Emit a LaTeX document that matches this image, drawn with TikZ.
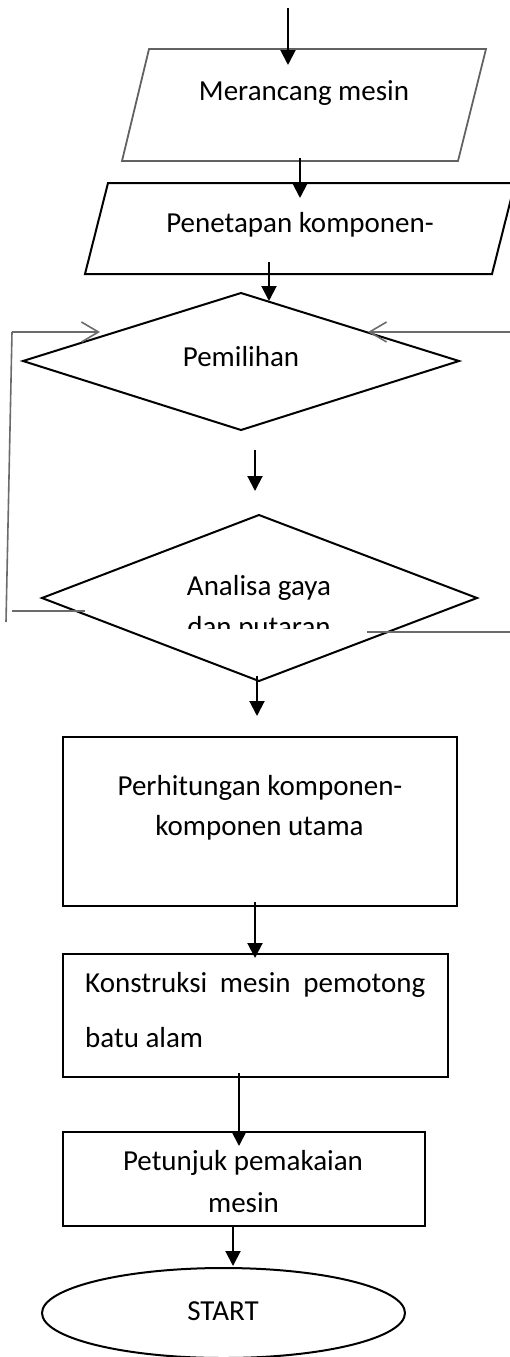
\documentclass[tikz,border=0pt]{standalone}
\usepackage{fontspec}
\setmainfont{Carlito}
\usetikzlibrary{arrows.meta}
\begin{document}
\begin{tikzpicture}[x=1pt,y=-1pt,
  shapeline/.style={draw=black,line width=2pt,line join=miter},
  grayshape/.style={draw=black!62,line width=1.8pt,line join=miter},
  flow/.style={draw=black,line width=2pt,-{Triangle[width=15pt,length=15pt]}},
  loopline/.style={draw=black!58,line width=1.6pt},
  loopin/.style={loopline,-{Straight Barb[length=17pt,width=20pt]}},
  txt/.style={anchor=base,inner sep=0pt,font=\fontsize{29}{39}\selectfont},
]
\useasboundingbox (0,0) rectangle (510,1357);

% shapes
\draw[grayshape] (149,49) -- (486,49) -- (458,161) -- (122,161) -- cycle;
\draw[shapeline] (108,183) -- (515,183) -- (492,274) -- (85,274) -- cycle;
\draw[shapeline] (241,293) -- (459,361) -- (241,430) -- (23,361) -- cycle;
\draw[shapeline] (259,515) -- (477,598) -- (259,681) -- (42,598) -- cycle;
\draw[shapeline] (63,737) rectangle (457,906);
\draw[shapeline] (63,954) rectangle (448,1077);
\draw[shapeline] (63,1132) rectangle (425,1226);
\draw[shapeline] (223.5,1313) ellipse [x radius=181.5pt, y radius=45pt];

% texts
\node[txt] (merancang) at (304,100) {Merancang mesin};
\node[txt] (penetapan) at (300,232) {Penetapan komponen-};
\node[txt] (pemilihan) at (241,366) {Pemilihan};
\node[txt] (analisa) at (259,595) {Analisa gaya};
\begin{scope}
  \clip (150,600) rectangle (370,628);
  \node[txt] (putaran) at (259,636) {dan putaran};
\end{scope}
\node[txt] (perhit1) at (260,795) {Perhitungan komponen-};
\node[txt] (perhit2) at (259.5,835) {komponen utama};
\node[txt,anchor=base west] (konstr1) at (85,992) {\hbox to 340pt{Konstruksi\hfill mesin\hfill pemotong}};
\node[txt,anchor=base west] (konstr2) at (85,1047) {batu alam};
\node[txt] (petunjuk1) at (243,1170) {Petunjuk pemakaian};
\node[txt] (petunjuk2) at (243.5,1212) {mesin};
\node[txt] (start) at (223,1320) {START};

% connector end points
\coordinate (a0s) at (288,8);    \coordinate (a0e) at (288,65);
\coordinate (a1s) at (300,158);  \coordinate (a1e) at (300,198);
\coordinate (a2s) at (269,262);  \coordinate (a2e) at (269,301);
\coordinate (a3s) at (255,450);  \coordinate (a3e) at (255,491);
\coordinate (a4s) at (257,676);  \coordinate (a4e) at (257,716);
\coordinate (a5s) at (255,902);  \coordinate (a5e) at (255,958);
\coordinate (a6s) at (239,1073); \coordinate (a6e) at (239,1146);
\coordinate (a7s) at (233,1226); \coordinate (a7e) at (233,1266);

\draw[flow] (a0s) -- (a0e);
\draw[flow] (a1s) -- (a1e);
\draw[flow] (a2s) -- (a2e);
\draw[flow] (a3s) -- (a3e);
\draw[flow] (a4s) -- (a4e);
\draw[flow] (a5s) -- (a5e);
\draw[flow] (a6s) -- (a6e);
\draw[flow] (a7s) -- (a7e);

% loop-back lines
\coordinate (L0) at (12,332);  \coordinate (L1) at (100,332);
\coordinate (L2) at (6,622);
\coordinate (L3) at (12,611);  \coordinate (L4) at (85,611);
\coordinate (R0) at (512,332); \coordinate (R1) at (368,332);
\coordinate (R2) at (367,632); \coordinate (R3) at (512,632);
\draw[loopin] (L0) -- (L1);
\draw[loopline] (L0) -- (L2);
\draw[loopline] (L3) -- (L4);
\draw[loopin] (R0) -- (R1);
\draw[loopline] (R2) -- (R3);
\end{tikzpicture}
\end{document}
